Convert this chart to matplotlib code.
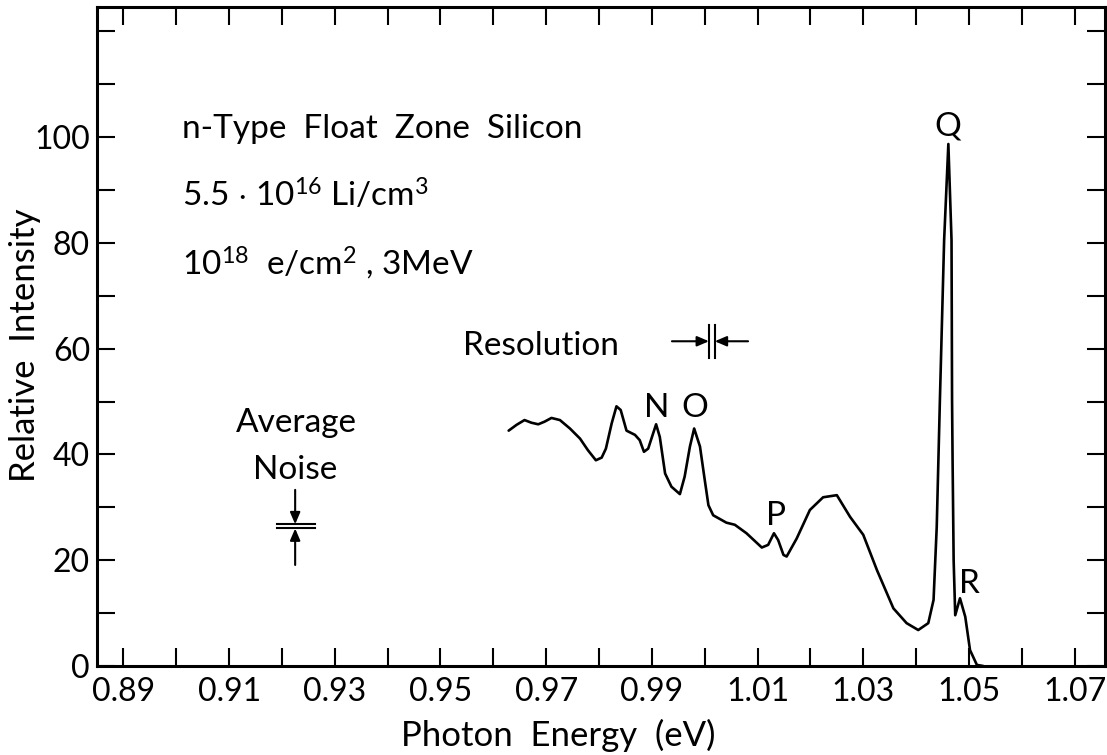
import matplotlib
matplotlib.use("Agg")
import matplotlib.pyplot as plt
from matplotlib.ticker import MultipleLocator, FixedLocator, FuncFormatter

plt.rcParams["font.family"] = ["Lato", "DejaVu Sans"]
plt.rcParams["mathtext.default"] = "regular"

# Photoluminescence spectrum of Li-doped, electron-irradiated float-zone Si
energy = [0.9629, 0.9644, 0.9659, 0.9672, 0.9685, 0.9697, 0.9710, 0.9726, 0.9745,
          0.9764, 0.9779, 0.9794, 0.9805, 0.9813, 0.9824, 0.9833, 0.9841, 0.9852,
          0.9868, 0.9877, 0.9885, 0.9893, 0.9908, 0.9915, 0.9925, 0.9937, 0.9953,
          0.9962, 0.9972, 0.9980, 0.9991, 1.0000, 1.0007, 1.0016, 1.0041, 1.0057,
          1.0079, 1.0108, 1.0120, 1.0131, 1.0139, 1.0149, 1.0155, 1.0174, 1.0199,
          1.0224, 1.0250, 1.0275, 1.0300, 1.0326, 1.0357, 1.0382, 1.0404, 1.0423,
          1.0433, 1.0439, 1.0445, 1.0453, 1.0461, 1.0467, 1.0468, 1.0469, 1.0471,
          1.0474, 1.0483, 1.0493, 1.0502, 1.0515, 1.0527]
intensity = [44.5, 45.6, 46.5, 46.0, 45.7, 46.2, 46.9, 46.5, 44.9,
             43.0, 40.8, 38.9, 39.4, 41.1, 45.9, 49.1, 48.4, 44.5,
             43.7, 42.7, 40.5, 41.1, 45.7, 43.3, 36.4, 33.9, 32.5,
             35.8, 41.5, 44.9, 41.5, 35.2, 30.4, 28.5, 27.1, 26.7,
             25.1, 22.4, 22.9, 25.1, 23.8, 21.0, 20.7, 24.1, 29.5,
             31.9, 32.3, 28.2, 24.8, 18.1, 10.9, 8.1, 6.8, 8.1,
             12.5, 26.3, 50.3, 80.5, 98.7, 80.5, 50.3, 38.9, 20.0,
             9.6, 12.8, 9.3, 3.0, 0.2, 0.0]

# Line labels and their positions (baseline)
peak_names = ["N", "O", "P", "Q", "R"]
peak_x = [0.9909, 0.9981, 1.0135, 1.0460, 1.0500]
peak_y = [47.1, 47.1, 26.7, 100.4, 13.8]

x_ticks = [0.89, 0.90, 0.91, 0.92, 0.93, 0.94, 0.95, 0.96, 0.97, 0.98, 0.99,
           1.00, 1.01, 1.02, 1.03, 1.04, 1.05, 1.06, 1.07]
x_tick_labels = ["0.89", "", "0.91", "", "0.93", "", "0.95", "", "0.97", "",
                 "0.99", "", "1.01", "", "1.03", "", "1.05", "", "1.07"]
y_labelled = [0, 20, 40, 60, 80, 100]

fig = plt.figure(figsize=(11.07, 7.55), dpi=100)
ax = fig.add_axes([0.0876, 0.1179, 0.9104, 0.8728])

ax.plot(energy, intensity, color="black", lw=1.9, solid_joinstyle="round",
        solid_capstyle="round")

ax.set_xlim(0.885, 1.0757)
ax.set_ylim(0, 124.6)

ax.xaxis.set_major_locator(FixedLocator(x_ticks))
ax.set_xticklabels(x_tick_labels)
ax.yaxis.set_major_locator(MultipleLocator(10))
ax.yaxis.set_major_formatter(FuncFormatter(
    lambda v, p: f"{int(round(v))}" if int(round(v)) in y_labelled else ""))

ax.tick_params(axis="both", which="both", direction="in", length=13, width=1.5,
               top=True, right=True, labelsize=23)
ax.tick_params(axis="x", pad=8)
ax.tick_params(axis="y", pad=5)
for s in ax.spines.values():
    s.set_linewidth(2.2)

ax.set_xlabel("Photon  Energy  (eV)", fontsize=25)
ax.xaxis.set_label_coords(0.458, -0.105)
ax.xaxis.label.set_va("center")
ax.set_ylabel("Relative  Intensity", fontsize=25)
ax.yaxis.set_label_coords(-0.071, 0.487)
ax.yaxis.label.set_va("center")

# Sample description
fs = 24
ax.text(0.9010, 99.8, "n-Type  Float  Zone  Silicon", fontsize=fs, va="baseline")
ax.text(0.9010, 86.8, r"5.5 $\cdot$ 10$^{16}$ Li/cm$^{3}$", fontsize=fs, va="baseline")
ax.text(0.9010, 73.9, r"10$^{18}$  e/cm$^{2}$ , 3MeV", fontsize=fs, va="baseline")

for name, px, py in zip(peak_names, peak_x, peak_y):
    ax.text(px, py, name, fontsize=fs, ha="center", va="baseline")

# Spectral resolution marker
ax.text(0.9542, 58.8, "Resolution", fontsize=fs, ha="left", va="baseline")
arrow = dict(arrowstyle="-|>,head_length=0.7,head_width=0.3", color="black",
             lw=1.5, shrinkA=0, shrinkB=0)
ax.annotate("", xy=(1.0008, 61.4), xytext=(0.9938, 61.4), arrowprops=arrow)
ax.annotate("", xy=(1.0019, 61.4), xytext=(1.0082, 61.4), arrowprops=arrow)
ax.plot([1.0008, 1.0008], [58.2, 64.5], color="black", lw=1.5)
ax.plot([1.0019, 1.0019], [58.2, 64.5], color="black", lw=1.5)

# Average noise marker
ax.text(0.9228, 44.3, "Average", fontsize=fs, ha="center", va="baseline")
ax.text(0.9224, 35.4, "Noise", fontsize=fs, ha="center", va="baseline")
ax.annotate("", xy=(0.9225, 26.8), xytext=(0.9225, 33.3), arrowprops=arrow)
ax.annotate("", xy=(0.9225, 26.0), xytext=(0.9225, 19.1), arrowprops=arrow)
ax.plot([0.9190, 0.9262], [26.8, 26.8], color="black", lw=1.5)
ax.plot([0.9190, 0.9262], [26.0, 26.0], color="black", lw=1.5)

fig.savefig("out.png", dpi=100)
